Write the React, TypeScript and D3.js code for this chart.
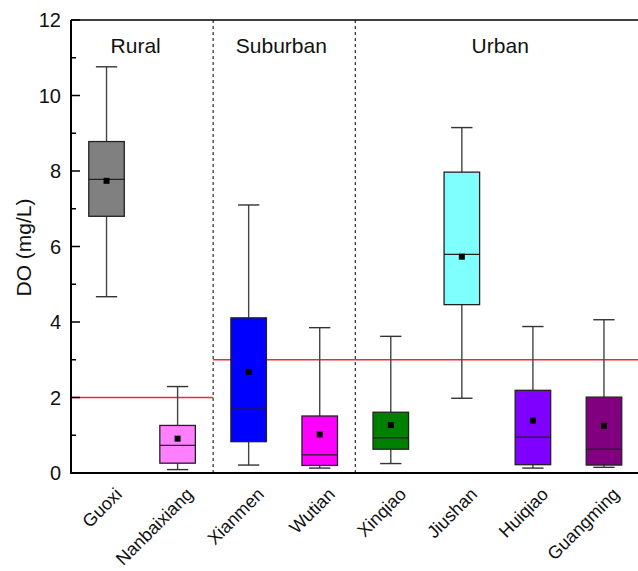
import React from "react";
import * as d3 from "d3";

// Sampling sites and their DO summary statistics (mg/L)
const sites = ["Guoxi", "Nanbaixiang", "Xianmen", "Wutian", "Xinqiao", "Jiushan", "Huiqiao", "Guangming"];
const whiskerLow = [4.67, 0.09, 0.21, 0.13, 0.25, 1.98, 0.13, 0.15];
const q1 = [6.8, 0.26, 0.83, 0.2, 0.63, 4.46, 0.22, 0.21];
const median = [7.78, 0.73, 1.69, 0.48, 0.93, 5.79, 0.95, 0.63];
const q3 = [8.78, 1.26, 4.11, 1.51, 1.61, 7.97, 2.19, 2.01];
const whiskerHigh = [10.76, 2.29, 7.1, 3.85, 3.62, 9.15, 3.88, 4.06];
const mean = [7.74, 0.91, 2.68, 1.02, 1.27, 5.73, 1.39, 1.25];
const fills = ["#808080", "#ff80ff", "#0000ff", "#ff00ff", "#008000", "#80ffff", "#8000ff", "#800080"];

// Land-use groups: label, label position (category units), right boundary
const groupNames = ["Rural", "Suburban", "Urban"];
const groupLabelAt = [1.41, 3.46, 6.54];
const groupEnds = [2.5, 4.5, 8.5];
// Threshold (mg/L) per group segment
const thresholds = [2, 3, 3];

const yMajor = [0, 2, 4, 6, 8, 10, 12];
const yMinor = [1, 3, 5, 7, 9, 11];

const W = 638;
const H = 571;
const left = 71;
const right = 639.5;
const top = 20;
const bottom = 473;

export default function App() {
  const x = d3.scaleLinear().domain([0.5, 8.5]).range([left, right]);
  const y = d3.scaleLinear().domain([0, 12]).range([bottom, top]);
  const boxW = x(1.5) - x(1);
  const capW = x(1.3) - x(1);
  const font = "'Liberation Sans', Arial, Helvetica, sans-serif";

  const groupStarts = [0.5, ...groupEnds.slice(0, -1)];

  return (
    <svg
      width={W}
      height={H}
      style={{ position: "absolute", left: 0, top: 0, background: "#fff" }}
      fontFamily={font}
    >
      {/* threshold lines */}
      {thresholds.map((t, i) => (
        <line
          key={"th" + i}
          x1={x(groupStarts[i])}
          x2={x(groupEnds[i])}
          y1={y(t)}
          y2={y(t)}
          stroke="#ff0000"
          strokeOpacity={0.85}
          strokeWidth={1.3}
        />
      ))}

      {/* group separators */}
      {groupEnds.slice(0, -1).map((g, i) => (
        <line
          key={"sep" + i}
          x1={x(g)}
          x2={x(g)}
          y1={top}
          y2={bottom}
          stroke="#000"
          strokeWidth={1}
          strokeDasharray="3,3"
        />
      ))}

      {/* group labels */}
      {groupNames.map((g, i) => (
        <text key={g} x={x(groupLabelAt[i])} y={53} textAnchor="middle" fontSize={21} fill="#111">
          {g}
        </text>
      ))}

      {/* boxes */}
      {sites.map((s, i) => {
        const cx = x(i + 1);
        return (
          <g key={s}>
            <line x1={cx} x2={cx} y1={y(whiskerHigh[i])} y2={y(q3[i])} stroke="#444" strokeWidth={1.4} />
            <line x1={cx} x2={cx} y1={y(q1[i])} y2={y(whiskerLow[i])} stroke="#444" strokeWidth={1.4} />
            <line x1={cx - capW / 2} x2={cx + capW / 2} y1={y(whiskerHigh[i])} y2={y(whiskerHigh[i])} stroke="#333" strokeWidth={1.4} />
            <line x1={cx - capW / 2} x2={cx + capW / 2} y1={y(whiskerLow[i])} y2={y(whiskerLow[i])} stroke="#333" strokeWidth={1.4} />
            <rect
              x={cx - boxW / 2}
              y={y(q3[i])}
              width={boxW}
              height={y(q1[i]) - y(q3[i])}
              fill={fills[i]}
              stroke="#222"
              strokeWidth={1.3}
            />
            <line x1={cx - boxW / 2} x2={cx + boxW / 2} y1={y(median[i])} y2={y(median[i])} stroke="#222" strokeWidth={1.3} />
            <rect x={cx - 3} y={y(mean[i]) - 3} width={6} height={6} fill="#000" />
          </g>
        );
      })}

      {/* axes frame */}
      <line x1={left} x2={W} y1={top} y2={top} stroke="#000" strokeWidth={1.5} />
      <line x1={left} x2={W} y1={bottom} y2={bottom} stroke="#000" strokeWidth={2} />
      <line x1={left} x2={left} y1={top} y2={bottom + 1} stroke="#000" strokeWidth={2} />

      {/* y ticks */}
      {yMajor.map((v) => (
        <g key={"ym" + v}>
          <line x1={left} x2={left + 9} y1={y(v)} y2={y(v)} stroke="#000" strokeWidth={1.5} />
          <text x={61} y={y(v)} dy="0.36em" textAnchor="end" fontSize={20} fill="#111">
            {v}
          </text>
        </g>
      ))}
      {yMinor.map((v) => (
        <line key={"yn" + v} x1={left} x2={left + 5} y1={y(v)} y2={y(v)} stroke="#000" strokeWidth={1.5} />
      ))}

      {/* y axis title */}
      <text
        transform={`translate(31,${(top + bottom) / 2 + 1}) rotate(-90)`}
        textAnchor="middle"
        fontSize={21}
        fill="#111"
      >
        DO (mg/L)
      </text>

      {/* x labels */}
      {sites.map((s, i) => (
        <text
          key={"xl" + s}
          transform={`translate(${x(i + 1) + 12},${bottom + 18}) rotate(-45)`}
          textAnchor="end"
          dy="0.35em"
          fontSize={18}
          fill="#111"
        >
          {s}
        </text>
      ))}
    </svg>
  );
}
